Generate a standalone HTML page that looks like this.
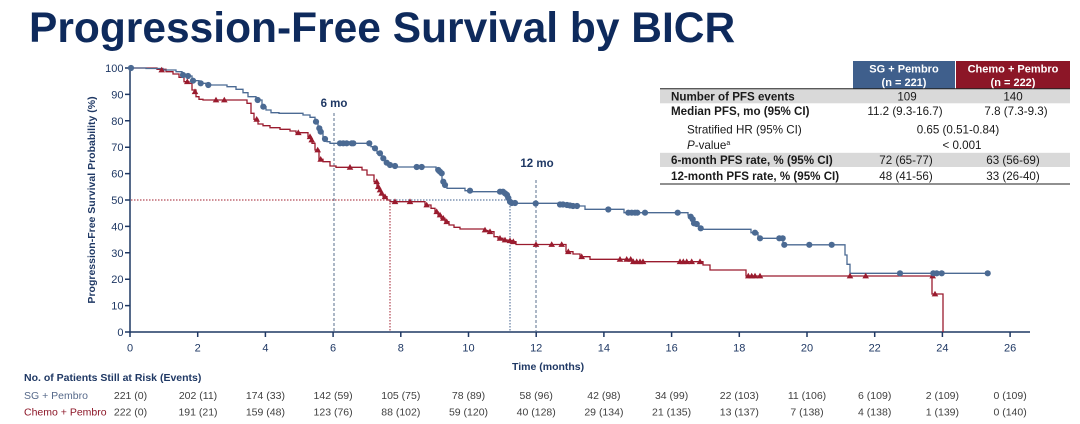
<!DOCTYPE html>
<html><head><meta charset="utf-8"><style>
html,body{margin:0;padding:0;background:#fff;}
svg{display:block;font-family:"Liberation Sans",Arial,sans-serif;}
</style></head><body>
<svg width="1080" height="424" viewBox="0 0 1080 424" xmlns="http://www.w3.org/2000/svg">
<defs>
<path id="tri" d="M-3.3,2.4 L0,-3.3 L3.3,2.4Z" fill="#9a1b2e"/>
<circle id="cir" r="3.1" fill="#4b6a93"/>
</defs>
<rect width="1080" height="424" fill="#fff"/>
<!-- Title -->
<text x="29" y="42" font-size="42.5" font-weight="bold" fill="#0e2a5c">Progression-Free Survival by BICR</text>

<!-- Table -->
<rect x="853" y="61" width="102" height="27.5" fill="#3f5f8c"/>
<rect x="956" y="61" width="114" height="27.5" fill="#8c1627"/>
<g font-size="11" font-weight="bold" fill="#fff" text-anchor="middle">
<text x="904" y="72.5">SG + Pembro</text><text x="904" y="86">(n = 221)</text>
<text x="1013" y="72.5">Chemo + Pembro</text><text x="1013" y="86">(n = 222)</text>
</g>
<rect x="660" y="89" width="410" height="14.3" fill="#d9d9d9"/>
<rect x="660" y="152.8" width="410" height="14.2" fill="#d9d9d9"/>
<line x1="660" y1="88.8" x2="1070" y2="88.8" stroke="#222" stroke-width="1"/>
<line x1="660" y1="167.5" x2="1070" y2="167.5" stroke="#fff" stroke-width="0.8"/>
<line x1="660" y1="184" x2="1070" y2="184" stroke="#222" stroke-width="1"/>
<g font-size="11.6" fill="#1a1a1a">
<text x="671" y="100.5" font-weight="bold">Number of PFS events</text>
<text x="671" y="115" font-weight="bold">Median PFS, mo (95% CI)</text>
<text x="687" y="133.5">Stratified HR (95% CI)</text>
<text x="687" y="149"><tspan font-style="italic">P</tspan>-value<tspan font-size="7" dy="-4">a</tspan></text>
<text x="671" y="164" font-weight="bold">6-month PFS rate, % (95% CI)</text>
<text x="671" y="180" font-weight="bold">12-month PFS rate, % (95% CI)</text>
<g text-anchor="middle">
<text x="907" y="100.5">109</text><text x="1013" y="100.5">140</text>
<text x="905" y="115">11.2 (9.3-16.7)</text><text x="1016" y="115">7.8 (7.3-9.3)</text>
<text x="958" y="133.5">0.65 (0.51-0.84)</text>
<text x="962" y="149">&lt; 0.001</text>
<text x="906" y="164">72 (65-77)</text><text x="1013" y="164">63 (56-69)</text>
<text x="906" y="180">48 (41-56)</text><text x="1013" y="180">33 (26-40)</text>
</g>
</g>

<!-- Axes -->
<g stroke="#1f3864" stroke-width="1.5" fill="none">
<line x1="130" y1="67" x2="130" y2="332.7"/>
<line x1="129.3" y1="332" x2="1030" y2="332"/>
<path d="M125 68H130M125 94.4H130M125 120.8H130M125 147.2H130M125 173.6H130M125 200H130M125 226.4H130M125 252.8H130M125 279.2H130M125 305.6H130M125 332H130"/>
<path d="M130 332V337M197.7 332V337M265.4 332V337M333.1 332V337M400.8 332V337M468.5 332V337M536.2 332V337M603.9 332V337M671.6 332V337M739.3 332V337M807 332V337M874.7 332V337M942.4 332V337M1010.1 332V337"/>
</g>
<g font-size="11" fill="#1f3864" text-anchor="end">
<text x="123.5" y="72">100</text><text x="123.5" y="98.4">90</text><text x="123.5" y="124.8">80</text>
<text x="123.5" y="151.2">70</text><text x="123.5" y="177.6">60</text><text x="123.5" y="204">50</text>
<text x="123.5" y="230.4">40</text><text x="123.5" y="256.8">30</text><text x="123.5" y="283.2">20</text>
<text x="123.5" y="309.6">10</text><text x="123.5" y="336">0</text>
</g>
<g font-size="11" fill="#1f3864" text-anchor="middle">
<text x="130" y="351.5">0</text><text x="197.7" y="351.5">2</text><text x="265.4" y="351.5">4</text>
<text x="333.1" y="351.5">6</text><text x="400.8" y="351.5">8</text><text x="468.5" y="351.5">10</text>
<text x="536.2" y="351.5">12</text><text x="603.9" y="351.5">14</text><text x="671.6" y="351.5">16</text>
<text x="739.3" y="351.5">18</text><text x="807" y="351.5">20</text><text x="874.7" y="351.5">22</text>
<text x="942.4" y="351.5">24</text><text x="1010.1" y="351.5">26</text>
</g>
<text x="512" y="370" font-size="10.5" font-weight="bold" fill="#1f3864">Time (months)</text>
<text transform="translate(95,200) rotate(-90)" font-size="10.5" font-weight="bold" fill="#1f3864" text-anchor="middle">Progression-Free Survival Probability (%)</text>

<!-- Reference lines -->
<g fill="none" stroke-width="1">
<line x1="334" y1="113" x2="334" y2="332" stroke="#5a6f8e" stroke-dasharray="3,2"/>
<line x1="536" y1="180" x2="536" y2="332" stroke="#5a6f8e" stroke-dasharray="3,2"/>
<line x1="131" y1="200" x2="390" y2="200" stroke="#a01c2c" stroke-dasharray="1.5,1.5"/>
<line x1="390" y1="200" x2="510" y2="200" stroke="#3f5f8c" stroke-dasharray="1.5,1.5"/>
<line x1="390" y1="200" x2="390" y2="332" stroke="#a01c2c" stroke-dasharray="1.5,1.5"/>
<line x1="510" y1="200" x2="510" y2="332" stroke="#3f5f8c" stroke-dasharray="1.5,1.5"/>
</g>
<text x="334" y="107" font-size="11.5" font-weight="bold" fill="#1f3864" text-anchor="middle">6 mo</text>
<text x="537" y="167" font-size="11.5" font-weight="bold" fill="#1f3864" text-anchor="middle">12 mo</text>

<!-- Red curve -->
<path fill="none" stroke="#9a1b2e" stroke-width="1.3" d="M130 68 H157 V69.3 H166 V71.7 H173 V74 H179 V77.3 H184 V81.7 H189 V83.3 H192 V90 H196 V96.7 H199 V99.3 H203 V100 H247 V103.3 H251 V113.3 H254 V119.3 H258 V124 H263 V125.7 H270 V127.7 H280 V129.3 H290 V131 H296 V132.7 H308 V136.7 H311 V140 H312 V143.3 H315 V150 H319 V159.3 H323 V161.7 H330 V166 H336 V167.3 H362 V170 H367 V175 H374 V181.7 H377 V186.7 H379 V190 H381 V193.3 H383 V196.7 H387 V200 H390 V201.7 H425 V205 H431 V208.3 H435 V211.7 H438 V215 H441 V218.3 H445 V221.7 H449 V225 H454 V227.3 H460 V229 H484 V230.5 H488 V231.7 H494 V236.7 H498 V238.3 H503 V240 H508 V240.7 H512 V241.7 H516 V244.5 H566 V251.7 H573 V254 H580 V256.7 H590 V259.3 H632 V261.7 H703 V265 H710 V270 H746 V276 H932 V294 H943 V332"/>
<!-- Blue curve -->
<path fill="none" stroke="#4b6a93" stroke-width="1.3" d="M130 68 H146 V68.5 H163 V70 H176 V71.7 H182 V75 H187 V76 H192 V80.7 H199 V83.3 H206 V85 H227 V86.7 H236 V89.3 H243 V92.7 H248 V96.7 H256 V100 H262 V106.7 H266 V110 H271 V112.7 H279 V113.3 H303 V115 H310 V117.3 H315 V121.7 H318 V128.3 H320 V131.7 H323 V139 H327 V141.7 H330 V143.3 H371 V146.7 H374 V148.3 H377 V153.3 H382 V158.3 H385 V162.7 H388 V165 H393 V167 H436 V170 H439 V171.7 H441 V173.3 H442 V181.7 H444 V185 H446 V186.7 H447 V188.3 H465 V190.7 H472 V191.7 H499 V193.3 H504 V195 H506 V198 H508 V201.7 H510 V203.3 H558 V204.5 H570 V206 H585 V209.3 H624 V212.7 H688 V215 H690 V216.7 H692 V219.3 H694 V223.3 H696 V224 H699 V228.3 H702 V229.3 H751 V232.7 H758 V238.3 H783 V244.8 H845 V255 H847 V264.3 H850 V273.3 H988"/>

<!-- Red triangles -->
<g>
<use href="#tri" x="161.7" y="70"/><use href="#tri" x="187.3" y="81.7"/><use href="#tri" x="195" y="91.7"/>
<use href="#tri" x="216" y="100"/><use href="#tri" x="224.3" y="100"/><use href="#tri" x="256.7" y="119.3"/>
<use href="#tri" x="298.3" y="132.7"/><use href="#tri" x="310" y="136.7"/><use href="#tri" x="311.7" y="140"/>
<use href="#tri" x="317.7" y="150"/><use href="#tri" x="320.7" y="159.3"/><use href="#tri" x="350" y="167.3"/>
<use href="#tri" x="376.7" y="181.7"/><use href="#tri" x="378.3" y="186.7"/><use href="#tri" x="380" y="190"/>
<use href="#tri" x="381.7" y="193.3"/><use href="#tri" x="385" y="196.7"/><use href="#tri" x="395" y="201.7"/>
<use href="#tri" x="410" y="201.7"/><use href="#tri" x="426.7" y="205"/><use href="#tri" x="436.7" y="211.7"/>
<use href="#tri" x="440" y="215"/><use href="#tri" x="443.3" y="218.3"/><use href="#tri" x="446.7" y="221.7"/>
<use href="#tri" x="485" y="230"/><use href="#tri" x="490" y="231.7"/><use href="#tri" x="500" y="238.3"/>
<use href="#tri" x="505" y="240"/><use href="#tri" x="510" y="240.7"/><use href="#tri" x="513.3" y="241.7"/>
<use href="#tri" x="536" y="244.5"/><use href="#tri" x="551.7" y="244.5"/><use href="#tri" x="561.7" y="244.5"/>
<use href="#tri" x="568.3" y="251.7"/><use href="#tri" x="581.7" y="256.7"/><use href="#tri" x="620" y="259.3"/>
<use href="#tri" x="626.7" y="259.3"/><use href="#tri" x="630.7" y="259.3"/><use href="#tri" x="633.3" y="261.7"/>
<use href="#tri" x="636.7" y="261.7"/><use href="#tri" x="640" y="261.7"/><use href="#tri" x="643" y="261.7"/>
<use href="#tri" x="680" y="261.7"/><use href="#tri" x="683.3" y="261.7"/><use href="#tri" x="686.7" y="261.7"/>
<use href="#tri" x="691.7" y="261.7"/><use href="#tri" x="700" y="261.7"/><use href="#tri" x="748.3" y="276"/>
<use href="#tri" x="751.7" y="276"/><use href="#tri" x="755" y="276"/><use href="#tri" x="760" y="276"/>
<use href="#tri" x="850" y="276"/><use href="#tri" x="865.7" y="276"/><use href="#tri" x="932.7" y="276"/>
<use href="#tri" x="935" y="294"/>
</g>
<!-- Blue circles -->
<g>
<use href="#cir" x="131" y="68"/><use href="#cir" x="183" y="75"/><use href="#cir" x="188" y="76"/>
<use href="#cir" x="193" y="80.7"/><use href="#cir" x="200.7" y="83.3"/><use href="#cir" x="208.3" y="85"/>
<use href="#cir" x="257.7" y="100"/><use href="#cir" x="263.3" y="106.7"/><use href="#cir" x="316" y="121.7"/>
<use href="#cir" x="319.3" y="128.3"/><use href="#cir" x="320.7" y="131.7"/><use href="#cir" x="325" y="139"/>
<use href="#cir" x="340" y="143.3"/><use href="#cir" x="343.3" y="143.3"/><use href="#cir" x="346.7" y="143.3"/>
<use href="#cir" x="351.7" y="143.3"/><use href="#cir" x="353.3" y="143.3"/><use href="#cir" x="369.3" y="143.3"/>
<use href="#cir" x="375" y="148.3"/><use href="#cir" x="380" y="153.3"/><use href="#cir" x="383.3" y="158.3"/>
<use href="#cir" x="386.7" y="162.7"/><use href="#cir" x="390" y="165"/><use href="#cir" x="395" y="166"/>
<use href="#cir" x="416.7" y="167"/><use href="#cir" x="421.7" y="167"/><use href="#cir" x="438.3" y="170"/>
<use href="#cir" x="440" y="171.7"/><use href="#cir" x="441.7" y="173.3"/><use href="#cir" x="443.3" y="181.7"/>
<use href="#cir" x="445" y="185"/><use href="#cir" x="470" y="190.7"/><use href="#cir" x="500" y="191.7"/>
<use href="#cir" x="503" y="191.7"/><use href="#cir" x="505" y="193.3"/><use href="#cir" x="507" y="195"/>
<use href="#cir" x="508.3" y="198"/><use href="#cir" x="510" y="201.7"/><use href="#cir" x="511.7" y="203"/>
<use href="#cir" x="515" y="203"/><use href="#cir" x="535.7" y="203.5"/><use href="#cir" x="560" y="204.5"/>
<use href="#cir" x="563" y="204.5"/><use href="#cir" x="567" y="205"/><use href="#cir" x="570" y="205.5"/>
<use href="#cir" x="573" y="206"/><use href="#cir" x="577" y="206"/><use href="#cir" x="608.3" y="209.5"/>
<use href="#cir" x="628.3" y="212.7"/><use href="#cir" x="631.7" y="212.7"/><use href="#cir" x="635" y="212.7"/>
<use href="#cir" x="637.3" y="212.7"/><use href="#cir" x="645" y="212.7"/><use href="#cir" x="677.7" y="212.7"/>
<use href="#cir" x="690.7" y="216.7"/><use href="#cir" x="692.7" y="219.3"/><use href="#cir" x="694" y="223.3"/>
<use href="#cir" x="696.7" y="224"/><use href="#cir" x="700.7" y="228.3"/><use href="#cir" x="755" y="232.7"/>
<use href="#cir" x="760" y="238.3"/><use href="#cir" x="779.3" y="238.3"/><use href="#cir" x="782.7" y="238.3"/>
<use href="#cir" x="784.3" y="244.8"/><use href="#cir" x="809.3" y="244.8"/><use href="#cir" x="831.7" y="244.8"/>
<use href="#cir" x="900" y="273.3"/><use href="#cir" x="933.3" y="273.3"/><use href="#cir" x="936.7" y="273.3"/>
<use href="#cir" x="941.7" y="273.3"/><use href="#cir" x="987.7" y="273.3"/>
</g>

<!-- Risk table -->
<text x="24" y="381" font-size="10.5" font-weight="bold" fill="#1f3864">No. of Patients Still at Risk (Events)</text>
<text x="24" y="399" font-size="10.5" fill="#56698a">SG + Pembro</text>
<text x="24" y="415.5" font-size="10.5" fill="#8c1627">Chemo + Pembro</text>
<g font-size="10.5" fill="#404040" text-anchor="middle">
<text x="130.5" y="399">221 (0)</text><text x="198" y="399">202 (11)</text><text x="265.4" y="399">174 (33)</text>
<text x="333.1" y="399">142 (59)</text><text x="400.8" y="399">105 (75)</text><text x="468.5" y="399">78 (89)</text>
<text x="536.2" y="399">58 (96)</text><text x="603.9" y="399">42 (98)</text><text x="671.6" y="399">34 (99)</text>
<text x="739.3" y="399">22 (103)</text><text x="807" y="399">11 (106)</text><text x="874.7" y="399">6 (109)</text>
<text x="942.4" y="399">2 (109)</text><text x="1010.1" y="399">0 (109)</text>
<text x="130.5" y="415.5">222 (0)</text><text x="198" y="415.5">191 (21)</text><text x="265.4" y="415.5">159 (48)</text>
<text x="333.1" y="415.5">123 (76)</text><text x="400.8" y="415.5">88 (102)</text><text x="468.5" y="415.5">59 (120)</text>
<text x="536.2" y="415.5">40 (128)</text><text x="603.9" y="415.5">29 (134)</text><text x="671.6" y="415.5">21 (135)</text>
<text x="739.3" y="415.5">13 (137)</text><text x="807" y="415.5">7 (138)</text><text x="874.7" y="415.5">4 (138)</text>
<text x="942.4" y="415.5">1 (139)</text><text x="1010.1" y="415.5">0 (140)</text>
</g>
</svg>
</body></html>
